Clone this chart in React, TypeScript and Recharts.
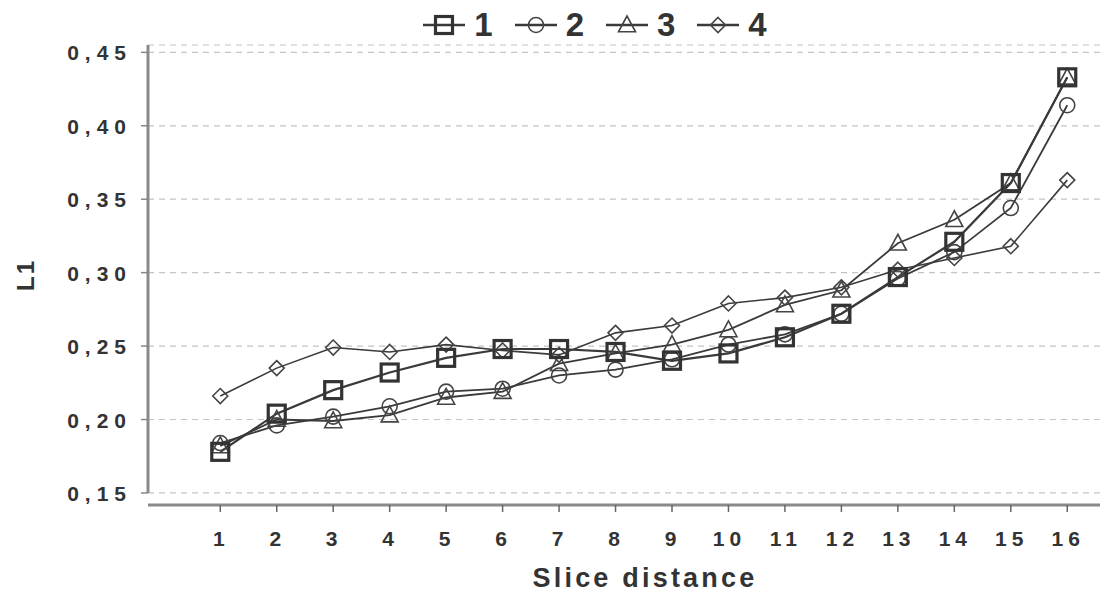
import { LineChart, Line, XAxis, YAxis, CartesianGrid, Legend, ReferenceLine } from "recharts";

const slices = [1, 2, 3, 4, 5, 6, 7, 8, 9, 10, 11, 12, 13, 14, 15, 16];
const series1 = [0.178, 0.204, 0.22, 0.232, 0.242, 0.248, 0.248, 0.246, 0.24, 0.245, 0.256, 0.272, 0.297, 0.321, 0.361, 0.433];
const series2 = [0.184, 0.196, 0.202, 0.209, 0.219, 0.221, 0.23, 0.234, 0.241, 0.251, 0.258, 0.272, 0.296, 0.314, 0.344, 0.414];
const series3 = [0.182, 0.2, 0.199, 0.203, 0.215, 0.219, 0.238, 0.245, 0.251, 0.261, 0.278, 0.288, 0.32, 0.336, 0.361, 0.433];
const series4 = [0.216, 0.235, 0.249, 0.246, 0.251, 0.247, 0.244, 0.259, 0.264, 0.279, 0.283, 0.29, 0.302, 0.31, 0.318, 0.363];
const yTicks = [0.15, 0.2, 0.25, 0.3, 0.35, 0.4, 0.45];
const seriesNames = ["1", "2", "3", "4"];

const data = slices.map((s, i) => ({
  slice: s,
  s1: series1[i],
  s2: series2[i],
  s3: series3[i],
  s4: series4[i],
}));

const INK = "#3a3a3a";
const FONT = "'Liberation Sans', Arial, sans-serif";

function Marker({ kind, cx, cy }: { kind: number; cx: number; cy: number }) {
  if (kind === 0) {
    return <rect x={cx - 8.5} y={cy - 8.5} width={17} height={17} fill="none" stroke="#333" strokeWidth={3.2} />;
  }
  if (kind === 1) {
    return <circle cx={cx} cy={cy} r={7.5} fill="none" stroke="#444" strokeWidth={1.6} />;
  }
  if (kind === 2) {
    const h = 15;
    return (
      <polygon
        points={`${cx},${cy - h * 0.6} ${cx - 8.5},${cy + h * 0.45} ${cx + 8.5},${cy + h * 0.45}`}
        fill="none"
        stroke="#444"
        strokeWidth={1.6}
      />
    );
  }
  return (
    <polygon
      points={`${cx},${cy - 7.5} ${cx + 7.5},${cy} ${cx},${cy + 7.5} ${cx - 7.5},${cy}`}
      fill="none"
      stroke="#444"
      strokeWidth={1.6}
    />
  );
}

const makeDot = (kind: number) => (props: any) => {
  const { cx, cy, index } = props;
  if (cx == null || cy == null) return <g key={`d${kind}-${index}`} />;
  return (
    <g key={`d${kind}-${index}`}>
      <Marker kind={kind} cx={cx} cy={cy} />
    </g>
  );
};

const LegendContent = () => (
  <div style={{ display: "flex", justifyContent: "center", alignItems: "center", height: 40, paddingLeft: 112 }}>
    {seriesNames.map((name, i) => (
      <div key={name} style={{ display: "flex", alignItems: "center", marginRight: 22 }}>
        <svg width={42} height={24}>
          <line x1={0} y1={12} x2={42} y2={12} stroke={INK} strokeWidth={2.5} />
          <Marker kind={i} cx={21} cy={12} />
        </svg>
        <span
          style={{
            fontFamily: FONT,
            fontWeight: 700,
            fontSize: 33,
            color: "#333",
            marginLeft: 9,
            lineHeight: "40px",
          }}
        >
          {name}
        </span>
      </div>
    ))}
  </div>
);

const YTick = (props: any) => {
  const { x, y, payload } = props;
  return (
    <text
      x={x + 5}
      y={y}
      dy={8}
      textAnchor="end"
      fontFamily={FONT}
      fontWeight={700}
      fontSize={21}
      letterSpacing={6}
      fill="#333"
    >
      {payload.value.toFixed(2).replace(".", ",")}
    </text>
  );
};

const XTick = (props: any) => {
  const { x, y, payload } = props;
  return (
    <text
      x={x + 1}
      y={y}
      dy={24}
      textAnchor="middle"
      fontFamily={FONT}
      fontWeight={700}
      fontSize={21}
      letterSpacing={5}
      fill="#333"
    >
      {String(payload.value)}
    </text>
  );
};

const XLabel = (props: any) => {
  const { viewBox } = props;
  return (
    <text
      x={viewBox.x + viewBox.width / 2 + 21}
      y={viewBox.y + viewBox.height - 8}
      textAnchor="middle"
      fontFamily={FONT}
      fontWeight={700}
      fontSize={27}
      letterSpacing={3.2}
      fill="#333"
    >
      Slice distance
    </text>
  );
};

const YLabel = (props: any) => {
  const { viewBox } = props;
  const cx = 25;
  const cy = viewBox.y + viewBox.height / 2;
  return (
    <text
      x={cx}
      y={cy}
      transform={`rotate(-90, ${cx}, ${cy})`}
      textAnchor="middle"
      dominantBaseline="central"
      fontFamily={FONT}
      fontWeight={700}
      fontSize={24}
      letterSpacing={2}
      fill="#333"
    >
      L1
    </text>
  );
};

export default function App() {
  return (
    <div style={{ position: "absolute", left: 0, top: 0, width: 1113, height: 595, background: "#fff" }}>
      <LineChart width={1113} height={595} data={data} margin={{ top: 5, right: 13, bottom: 0, left: 0 }}>
        <CartesianGrid horizontal vertical={false} stroke="#c4c4c4" strokeDasharray="6 5" strokeWidth={1.2} />
        <XAxis
          dataKey="slice"
          type="number"
          domain={[-0.28, 16.58]}
          ticks={slices}
          height={90}
          axisLine={{ stroke: "#8a8a8a", strokeWidth: 3 }}
          tickLine={{ stroke: "#666", strokeWidth: 1.5 }}
          tickSize={7}
          tickMargin={10}
          tick={<XTick />}
          label={<XLabel />}
        />
        <YAxis
          type="number"
          domain={[0.1418, 0.455]}
          ticks={yTicks}
          width={148}
          axisLine={false}
          tickLine={{ stroke: "#888", strokeWidth: 1.5 }}
          tickSize={7}
          tickMargin={14}
          tick={<YTick />}
          label={<YLabel />}
        />
        <ReferenceLine
          segment={[
            { x: -0.28, y: 0.15 },
            { x: -0.28, y: 0.455 },
          ]}
          stroke="#8a8a8a"
          strokeWidth={3}
        />
        <Legend verticalAlign="top" align="center" content={<LegendContent />} />
        <Line dataKey="s4" stroke={INK} strokeWidth={1.6} dot={makeDot(3)} isAnimationActive={false} />
        <Line dataKey="s3" stroke={INK} strokeWidth={1.8} dot={makeDot(2)} isAnimationActive={false} />
        <Line dataKey="s2" stroke={INK} strokeWidth={1.8} dot={makeDot(1)} isAnimationActive={false} />
        <Line dataKey="s1" stroke={INK} strokeWidth={2.2} dot={makeDot(0)} isAnimationActive={false} />
      </LineChart>
    </div>
  );
}
